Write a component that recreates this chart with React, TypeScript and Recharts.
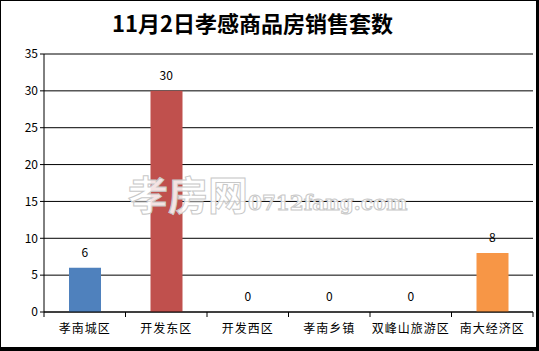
import React from 'react';
import { ComposedChart, Bar, Line, XAxis, YAxis, CartesianGrid, LabelList, Cell } from 'recharts';

const categories = ['孝南城区', '开发东区', '开发西区', '孝南乡镇', '双峰山旅游区', '南大经济区'];
const sales = [6, 30, 0, 0, 0, 8];
const barColors = ['#4F81BD', '#C0504D', '#9BBB59', '#8064A2', '#4BACC6', '#F79646'];
const yTicks = [0, 5, 10, 15, 20, 25, 30, 35];

const data = categories.map((name, i) => ({ name, value: sales[i] }));

const W = 539;
const H = 351;
const PLOT_LEFT = 44;
const PLOT_RIGHT = 533;
const BAND = (PLOT_RIGHT - PLOT_LEFT) / categories.length;

const FONT = '"Noto Sans CJK SC", "DejaVu Sans", sans-serif';

// Excel-style tick: mark at band boundaries, label at band center
const XTick = (props: any) => {
  const { x, y, payload, index } = props;
  const left = x - BAND / 2;
  return (
    <g>
      <line x1={left} y1={y - 8} x2={left} y2={y - 3} stroke="#000" />
      {index === categories.length - 1 && (
        <line x1={x + BAND / 2} y1={y - 8} x2={x + BAND / 2} y2={y - 3} stroke="#000" />
      )}
      <text x={x} y={y + 13} textAnchor="middle" fontSize={12} fill="#000" fontFamily={FONT} letterSpacing={1}>
        {payload.value}
      </text>
    </g>
  );
};

export default function App() {
  return (
    <div style={{ position: 'absolute', left: 0, top: 0, width: W, height: H, background: '#fff' }}>
      <div
        style={{
          position: 'absolute', left: 0, top: 0, width: W, height: H, boxSizing: 'border-box',
          borderLeft: '1px solid #000', borderTop: '1px solid #000',
          borderRight: '3px solid #000', borderBottom: '4px solid #000',
        }}
      />
      <div
        style={{
          position: 'absolute', left: 0, top: 6, width: 505, textAlign: 'center',
          fontFamily: FONT, fontWeight: 'bold', fontSize: 22, color: '#000',
        }}
      >
        11月2日孝感商品房销售套数
      </div>
      <div style={{ position: 'absolute', left: 0, top: 0 }}>
        <ComposedChart width={W} height={H} data={data} margin={{ top: 54, right: W - PLOT_RIGHT, bottom: 9, left: 14 }}>
          <CartesianGrid vertical={false} stroke="#000" strokeOpacity={1} />
          <XAxis
            dataKey="name"
            height={30}
            axisLine={{ stroke: '#000' }}
            tickLine={false}
            interval={0}
            tick={<XTick />}
          />
          <YAxis
            width={30}
            domain={[0, 35]}
            ticks={yTicks}
            axisLine={{ stroke: '#000' }}
            tickLine={{ stroke: '#000' }}
            tickSize={4}
            tick={{ fill: '#000', fontSize: 12, fontFamily: FONT }}
            interval={0}
          />
          <Bar dataKey="value" barSize={32} isAnimationActive={false}>
            {data.map((d, i) => (
              <Cell key={d.name} fill={barColors[i]} />
            ))}
          </Bar>
          <Line dataKey="value" stroke="none" dot={false} activeDot={false} isAnimationActive={false}>
            <LabelList dataKey="value" position="top" offset={11} fill="#000" fontSize={12} fontFamily={FONT} />
          </Line>
        </ComposedChart>
      </div>
      <div
        style={{
          position: 'absolute', left: 128, top: 164, whiteSpace: 'nowrap', pointerEvents: 'none',
          color: 'rgba(255,255,255,0.85)', WebkitTextStroke: '1px #c8c8c8', fontWeight: 'bold',
        }}
      >
        <span style={{ fontFamily: FONT, fontSize: 40 }}>孝房网</span>
        <span style={{ fontFamily: '"DejaVu Serif", serif', fontSize: 20 }}>0712fang.com</span>
      </div>
    </div>
  );
}
